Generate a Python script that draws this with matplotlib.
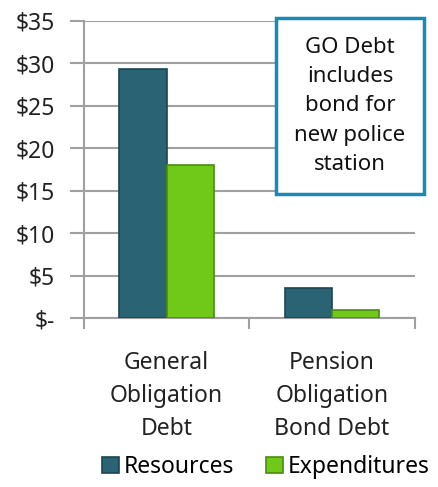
import numpy as np
import matplotlib.pyplot as plt

plt.rcParams['font.family'] = ['Noto Sans', 'DejaVu Sans']

categories = ['General\nObligation\nDebt', 'Pension\nObligation\nBond Debt']
resources = [29.3, 3.5]
expenditures = [18.0, 1.0]
ytick_vals = [0, 5, 10, 15, 20, 25, 30, 35]
ytick_labels = ['$-', '$5', '$10', '$15', '$20', '$25', '$30', '$35']

fig = plt.figure(figsize=(4.39, 4.87), dpi=100)
ax = fig.add_axes([0.191, 0.347, 0.754, 0.610])

x = np.arange(len(categories))
w = 0.285
ax.bar(x - w / 2, resources, w, color='#2a6373', edgecolor='#1b4551',
       linewidth=1.2, label='Resources', zorder=3)
ax.bar(x + w / 2, expenditures, w, color='#70c819', edgecolor='#4a8d0f',
       linewidth=1.2, label='Expenditures', zorder=3)

ax.set_xlim(-0.5, 1.5)
ax.set_ylim(0, 35)
ax.set_yticks(ytick_vals)
ax.set_yticklabels(ytick_labels, fontsize=16.5, color='#222222')
ax.set_xticks(x)
ax.set_xticklabels(categories, fontsize=16.5, color='#222222', linespacing=1.5)
ax.tick_params(axis='x', which='major', length=0, pad=24)
ax.set_xticks([-0.5, 0.5, 1.5], minor=True)
ax.tick_params(axis='x', which='minor', length=8, color='#a0a0a0', width=1.5)
ax.tick_params(axis='y', length=10, color='#a0a0a0', width=1.5, pad=11)

ax.grid(axis='y', color='#a0a0a0', linewidth=1.5, zorder=0)
for s in ['top', 'right']:
    ax.spines[s].set_visible(False)
for s in ['left', 'bottom']:
    ax.spines[s].set_color('#a0a0a0')
    ax.spines[s].set_linewidth(1.5)

ax.text(0.804, 0.714, 'GO Debt\nincludes\nbond for\nnew police\nstation',
        transform=ax.transAxes, ha='center', va='center', fontsize=16,
        linespacing=1.52, color='#111111', zorder=5,
        bbox=dict(boxstyle='square,pad=0.85', facecolor='white',
                  edgecolor='#1a8ab4', linewidth=2.5))

fig.legend(loc='lower center', bbox_to_anchor=(0.605, -0.012), ncol=2,
           frameon=False, fontsize=16.5, handlelength=0.75, handleheight=0.75,
           handletextpad=0.2, columnspacing=1.4, borderaxespad=0.2)

fig.savefig('out.png', dpi=100)
